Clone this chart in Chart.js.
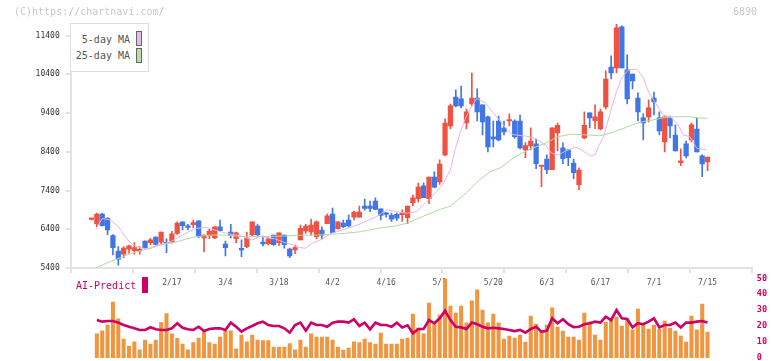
<!DOCTYPE html>
<html>
<head>
<meta charset="utf-8">
<script src="https://cdn.jsdelivr.net/npm/chart.js@4.4.1/dist/chart.umd.min.js"></script>
<style>
body { margin: 0; background: #fff; }
#wrap { position: relative; width: 772px; height: 361px; font-family: 'DejaVu Sans Mono', monospace; }
#wrap canvas { position: absolute; left: 0; top: 0; }
#price { z-index: 1; }
#vol { z-index: 2; }
.txt { position: absolute; white-space: pre; z-index: 3; }
#copy { left: 14px; top: 6px; font-size: 10px; line-height: 12px; color: #c8c8c8; }
#code { right: 15px; top: 6px; font-size: 10px; line-height: 12px; color: #c8c8c8; }
#legend { position: absolute; left: 70px; top: 23px; width: 77px; height: 47px; border: 1px solid #ddd; background: #fff; z-index: 3; }
#legend .lt { position: absolute; right: 18px; font-size: 10px; line-height: 12px; color: #555; }
#legend .sw { position: absolute; left: 65px; width: 4px; height: 13px; border: 1px solid #666; }
#ai { left: 76px; top: 280px; font-size: 10px; line-height: 12px; color: #cc0066; }
#aibox { position: absolute; left: 142px; top: 277px; width: 6px; height: 16px; background: #cc0066; z-index: 3; }
</style>
</head>
<body>
<div id="wrap">
  <canvas id="price" width="772" height="361"></canvas>
  <canvas id="vol" width="772" height="361"></canvas>
  <div id="copy" class="txt">(C)https://chartnavi.com/</div>
  <div id="code" class="txt">6890</div>
  <div id="legend">
    <span class="lt" style="top:10px">5-day MA</span><span class="sw" style="top:7px;background:#ecb8ec"></span>
    <span class="lt" style="top:26px">25-day MA</span><span class="sw" style="top:24px;background:#b8dcaa"></span>
  </div>
  <div id="ai" class="txt">AI-Predict</div>
  <div id="aibox"></div>
</div>
<script>
// daily candles, index 0 = first trading day shown
const opens = [
    6655, 6540, 6795, 6685, 6235, 5840, 5760, 5885, 5845, 5840,
    6095, 6055, 6200, 6065, 6030, 6065, 6295, 6590, 6455, 6520,
    6615, 6175, 6235, 6175, 6460, 6020, 6330, 6155, 5910, 5950,
    6260, 6485, 6070, 6030, 6250, 6055, 6250, 5890, 5865, 6125,
    6355, 6330, 6210, 6380, 6545, 6795, 6415, 6560, 6640, 6715,
    6715, 7000, 7000, 7130, 6925, 6790, 6760, 6785, 6780, 6700,
    7085, 7190, 7520, 7190, 7750, 7620, 8320, 9070, 9815, 9765,
    9145, 9635, 9790, 9610, 9300, 8785, 9195, 9015, 9195, 9195,
    9195, 8450, 8550, 8605, 8020, 8215, 7940, 8890, 8500, 8450,
    8110, 7550, 8760, 9405, 9205, 8990, 9560, 10590, 10565, 11625,
    10515, 10410, 9790, 9275, 9300, 9790, 9275, 8655, 9275, 8835,
    8120, 8605, 8705, 8990, 8295, 8140
];
const highs = [
    6680, 6815, 6810, 6700, 6260, 5950, 5950, 5995, 6055, 5950,
    6100, 6165, 6205, 6330, 6150, 6350, 6590, 6590, 6530, 6640,
    6615, 6255, 6400, 6460, 6640, 6095, 6530, 6330, 6130, 6330,
    6590, 6535, 6225, 6185, 6250, 6305, 6250, 5915, 5995, 6505,
    6530, 6660, 6620, 6465, 6795, 6950, 6600, 6640, 6770, 6870,
    7000, 7180, 7130, 7210, 6925, 6840, 6820, 6815, 6900, 7000,
    7285, 7595, 7595, 7750, 7880, 8190, 9250, 9635, 10000, 10100,
    9505, 10435, 10025, 9610, 9325, 9195, 9325, 9195, 9380, 9225,
    9350, 8640, 9020, 8730, 8045, 8320, 9020, 9145, 8630, 8450,
    8215, 7985, 9430, 9405, 9610, 9505, 10490, 10875, 11700, 11650,
    10905, 10410, 9920, 9380, 9740, 9945, 9430, 9300, 9325, 9095,
    8475, 8680, 9145, 9275, 8320, 8265
];
const lows = [
    6640, 6470, 6480, 6260, 5735, 5475, 5665, 5780, 5760, 5755,
    5890, 5995, 5995, 6030, 5795, 6040, 6270, 6380, 6380, 6440,
    6185, 5815, 6155, 6155, 6365, 5710, 6175, 6055, 5690, 5925,
    6235, 6235, 5970, 5995, 5985, 5985, 5910, 5665, 5770, 6125,
    6295, 6250, 6150, 6150, 6545, 6315, 6400, 6440, 6460, 6640,
    6715, 6890, 6855, 6915, 6640, 6710, 6605, 6630, 6610, 6545,
    7000, 7105, 7215, 7060, 7470, 7560, 8295, 8990, 9560, 9535,
    8990, 9585, 9195, 8835, 8395, 8525, 8680, 8835, 9070, 8750,
    8475, 8250, 8450, 7965, 7500, 7835, 7940, 8430, 8095, 8045,
    7705, 7420, 8735, 9020, 9000, 8965, 9505, 10280, 10435, 10565,
    9635, 10025, 9195, 8705, 9170, 9350, 8835, 8395, 8760, 8420,
    8045, 8240, 8655, 8395, 7760, 7915
];
const closes = [
    6660, 6795, 6495, 6380, 5925, 5630, 5915, 5975, 5925, 5885,
    5925, 6125, 6010, 6330, 6025, 6280, 6560, 6495, 6450, 6570,
    6220, 6250, 6355, 6460, 6365, 5925, 6235, 6305, 5865, 6175,
    6590, 6260, 6020, 6155, 6000, 6305, 6000, 5710, 5925, 6425,
    6485, 6510, 6590, 6250, 6745, 6315, 6590, 6465, 6485, 6840,
    6845, 6940, 6940, 6915, 6760, 6785, 6660, 6685, 6830, 7000,
    7210, 7490, 7215, 7750, 7490, 8085, 9145, 9585, 9585, 9585,
    9430, 9790, 9430, 9170, 8525, 8735, 8705, 8915, 9220, 8790,
    8500, 8560, 8680, 8095, 8040, 7940, 9020, 9085, 8225, 8250,
    7860, 7930, 9085, 9275, 9300, 9430, 10280, 10435, 11600, 10565,
    9765, 10230, 9430, 9145, 9535, 9690, 8940, 9300, 9070, 8420,
    8165, 8295, 9095, 8395, 8085, 8265
];

// moving averages: [candle index, price]
const ma5 = [
    [0.8, 6400], [2, 6680], [3.5, 6640], [5, 6470], [6.3, 6210], [7.5, 6020], [9, 5925],
    [10.7, 5885], [11.9, 5950], [14.7, 6080], [16.5, 6210], [18.4, 6355], [19.6, 6425],
    [21.5, 6450], [23.4, 6365], [25.2, 6295], [28, 6225], [29.9, 6125], [31.5, 6210],
    [34.2, 6155], [36.1, 6055], [37.3, 6010], [38.9, 5930], [39.9, 5910], [41.2, 6040],
    [43, 6140], [44.8, 6295], [47.3, 6400], [50.1, 6535], [53.2, 6725], [55.1, 6900],
    [57, 6855], [58.8, 6815], [60.7, 6855], [62.6, 7115], [64.4, 7370], [65.7, 7590],
    [67, 7930], [67.9, 8465], [68.8, 8895], [70, 9325], [71, 9585], [71.9, 9775],
    [73.5, 9670], [74.7, 9455], [76.3, 9195], [77.5, 8985], [78.5, 8855], [79.1, 8835],
    [80.9, 8810], [82.8, 8750], [84.7, 8575], [85.9, 8365], [87.1, 8320], [89, 8450],
    [90.3, 8520], [91.5, 8450], [93.1, 8295], [94, 8320], [94.6, 8535], [95.6, 8790],
    [96.8, 9395], [98, 9960], [99, 10310], [100.2, 10515], [101.8, 10535], [103, 10320],
    [103.9, 9970], [105.4, 9635], [106.7, 9350], [108, 9310], [109.4, 9120], [110.5, 8835],
    [111.7, 8790], [113, 8490], [114.8, 8450]
];
const ma25 = [
    [0.8, 5400], [3.5, 5565], [6.6, 5735], [9.7, 5865], [12.8, 5995], [16, 6080], [19, 6195],
    [22.1, 6250], [25.2, 6250], [28.3, 6210], [31.5, 6210], [35.8, 6225], [38.9, 6245],
    [42, 6250], [47.3, 6295], [50.4, 6340], [53.5, 6425], [56.7, 6485], [58.9, 6555],
    [61.3, 6700], [65.1, 6915], [67, 7000], [70, 7345], [72.5, 7690], [74.4, 7880],
    [76.3, 7990], [78.5, 8210], [79.7, 8320], [82.2, 8490], [84.7, 8620], [87.1, 8790],
    [89.6, 8855], [92.8, 8835], [94.9, 8815], [96.8, 8880], [99.9, 9035], [102.4, 9165],
    [104.9, 9225], [107.4, 9295], [111.4, 9310], [112.7, 9280], [115, 9265]
];

// lower panel (0-50 scale), first candle has no bar
const volumes = [
    null, 15.1, 17.1, 20.7, 35.1, 24.5, 11.9, 7.5, 10.2, 5.2,
    11.3, 8.8, 11.3, 22.2, 27.8, 15.1, 12.3, 8.8, 5.2, 9.6,
    12.5, 16.5, 9.6, 8.8, 13.2, 17.1, 17.1, 5.8, 14.4, 10.2,
    14.4, 11.3, 10.9, 10.9, 6.9, 6.9, 6.9, 9.0, 5.2, 11.3,
    6.9, 15.1, 13.2, 13.2, 13.2, 11.3, 6.9, 5.0, 6.3, 10.2,
    9.6, 11.9, 9.6, 8.8, 15.7, 8.8, 8.8, 8.8, 11.9, 12.5,
    27.6, 18.8, 15.1, 34.5, 22.6, 27.0, 49.6, 32.6, 28.2, 32.6,
    22.0, 35.8, 42.7, 30.1, 22.0, 27.6, 22.0, 11.9, 13.8, 12.5,
    14.4, 10.0, 26.3, 21.3, 16.9, 20.7, 31.4, 19.4, 16.9, 13.2,
    13.2, 11.3, 28.2, 22.6, 14.4, 11.3, 22.6, 23.8, 25.7, 20.1,
    24.5, 17.6, 30.7, 20.7, 18.2, 20.7, 18.2, 23.2, 18.8, 16.9,
    13.8, 10.0, 26.3, 17.6, 33.9, 16.3
];
const aiPredict = [
    null, 23.8, 22.8, 23.2, 23.2, 22.2, 20.7, 19.6, 18.6, 17.6,
    17.6, 19.3, 18.0, 17.6, 17.6, 18.6, 21.8, 19.0, 18.0, 17.6,
    19.6, 16.9, 18.2, 18.6, 18.6, 17.6, 22.2, 19.6, 16.5, 18.6,
    20.1, 21.8, 22.8, 20.7, 20.1, 20.1, 18.6, 15.9, 20.7, 22.2,
    17.1, 22.2, 20.7, 20.7, 19.6, 22.2, 22.8, 22.8, 22.2, 24.3,
    20.1, 22.2, 18.0, 22.2, 20.7, 20.7, 19.6, 22.2, 19.2, 20.5,
    15.5, 18.2, 18.2, 23.8, 21.8, 24.9, 29.7, 23.8, 19.6, 19.2,
    18.2, 22.2, 21.2, 19.6, 18.6, 19.0, 18.6, 18.2, 17.6, 16.9,
    17.6, 15.9, 18.2, 19.6, 16.5, 17.1, 24.9, 21.8, 24.3, 21.2,
    19.3, 19.6, 21.2, 21.8, 22.8, 22.2, 25.9, 23.8, 30.1, 24.9,
    24.5, 19.2, 21.8, 21.2, 22.8, 24.9, 19.2, 20.7, 20.7, 22.2,
    19.2, 22.2, 22.2, 22.8, 23.2, 22.2
];

const priceTicks = [5400, 6400, 7400, 8400, 9400, 10400, 11400];
const volTicks = [0, 10, 20, 30, 40, 50];
const dateLabels = ['2/17', '3/4', '3/18', '4/2', '4/16', '5/1', '5/20', '6/3', '6/17', '7/1', '7/15'];
const dateIdx = [15, 25, 35, 45, 55, 65, 75, 85, 95, 105, 115];

// layout of the plot box (pixels) -> index range of the x scale
const plotLeft = 70.7, plotRight = 752.3, firstCandlePx = 91.5, candleStep = 5.357;
const xMin = -(firstCandlePx - plotLeft) / candleStep;
const xMax = xMin + (plotRight - plotLeft) / candleStep;
const gridTicks = [];
for (let k = 0; k <= 11; k++) gridTicks.push(xMin + k * (xMax - xMin) / 11);

const RED = '#f05242';
const BLUE = '#4076e6';
const AXIS = '#e2e2e2';
const FONT = "'DejaVu Sans Mono', monospace";

const idx = opens.map((_, i) => i);
const candleColors = idx.map(i => closes[i] >= opens[i] ? RED : BLUE);

const labelAt = {};
dateIdx.forEach((v, k) => labelAt[v] = dateLabels[k]);
const gridSet = new Set(gridTicks);

new Chart(document.getElementById('price'), {
    type: 'bar',
    data: {
        datasets: [
            {
                type: 'line',
                data: ma5.map(p => ({x: p[0], y: p[1]})),
                borderColor: '#e9b2e9',
                borderWidth: 1,
                pointRadius: 0,
                order: 0
            },
            {
                type: 'line',
                data: ma25.map(p => ({x: p[0], y: p[1]})),
                borderColor: '#b2d9a2',
                borderWidth: 1,
                pointRadius: 0,
                order: 0
            },
            {
                data: idx.map(i => ({x: i, y: [opens[i], closes[i]]})),
                backgroundColor: candleColors,
                barThickness: 4.6,
                minBarLength: 1.5,
                grouped: false,
                order: 1
            },
            {
                data: idx.map(i => ({x: i, y: [lows[i], highs[i]]})),
                backgroundColor: candleColors,
                barThickness: 1,
                grouped: false,
                order: 2
            }
        ]
    },
    options: {
        responsive: false,
        animation: false,
        devicePixelRatio: 1,
        layout: {padding: {left: 0, right: 772 - plotRight, top: 24, bottom: 0}},
        plugins: {legend: {display: false}, tooltip: {enabled: false}},
        scales: {
            x: {
                type: 'linear',
                min: xMin,
                max: xMax,
                offset: false,
                afterBuildTicks: s => {
                    s.ticks = [...gridTicks, ...dateIdx].sort((a, b) => a - b).map(v => ({value: v}));
                },
                afterFit: s => { s.height = 361 - 268; s.paddingLeft = 0; s.paddingRight = 0; },
                border: {color: AXIS, width: 2},
                grid: {
                    offset: false,
                    drawOnChartArea: false,
                    tickLength: 5,
                    lineWidth: 2,
                    color: ctx => (ctx.tick && gridSet.has(ctx.tick.value)) ? AXIS : 'rgba(0,0,0,0)'
                },
                ticks: {
                    autoSkip: false,
                    maxRotation: 0,
                    padding: 5,
                    color: '#555',
                    font: {family: FONT, size: 8},
                    callback: v => labelAt[v] !== undefined ? labelAt[v] : ''
                }
            },
            y: {
                min: 5400,
                max: 11700,
                beginAtZero: false,
                afterBuildTicks: s => { s.ticks = priceTicks.map(v => ({value: v})); },
                afterFit: s => { s.width = plotLeft; s.paddingTop = 0; s.paddingBottom = 0; },
                border: {color: AXIS, width: 2},
                grid: {drawOnChartArea: false, tickLength: 5, lineWidth: 2, color: AXIS},
                ticks: {padding: 6, color: '#333', font: {family: FONT, size: 8}, callback: v => String(v)}
            }
        }
    }
});

new Chart(document.getElementById('vol'), {
    type: 'bar',
    data: {
        datasets: [
            {
                type: 'line',
                data: idx.filter(i => aiPredict[i] !== null).map(i => ({x: i, y: aiPredict[i]})),
                borderColor: '#cc0066',
                borderWidth: 2.6,
                pointRadius: 0,
                order: 0
            },
            {
                data: idx.filter(i => volumes[i] !== null).map(i => ({x: i, y: volumes[i]})),
                backgroundColor: '#f09640',
                barThickness: 3.4,
                grouped: false,
                order: 1
            }
        ]
    },
    options: {
        responsive: false,
        animation: false,
        devicePixelRatio: 1,
        layout: {padding: {left: plotLeft, right: 0, top: 278.3, bottom: 3}},
        plugins: {legend: {display: false}, tooltip: {enabled: false}},
        scales: {
            x: {type: 'linear', min: xMin, max: xMax, offset: false, display: false},
            y: {
                position: 'right',
                min: 0,
                max: 50,
                afterBuildTicks: s => { s.ticks = volTicks.map(v => ({value: v})); },
                afterFit: s => { s.width = 772 - plotRight; s.paddingTop = 0; s.paddingBottom = 0; },
                grid: {display: false, drawTicks: false},
                border: {display: false},
                ticks: {padding: 4.5, color: '#cc0066', font: {family: FONT, size: 8.5, weight: 'bold'}}
            }
        }
    }
});
</script>
</body>
</html>
